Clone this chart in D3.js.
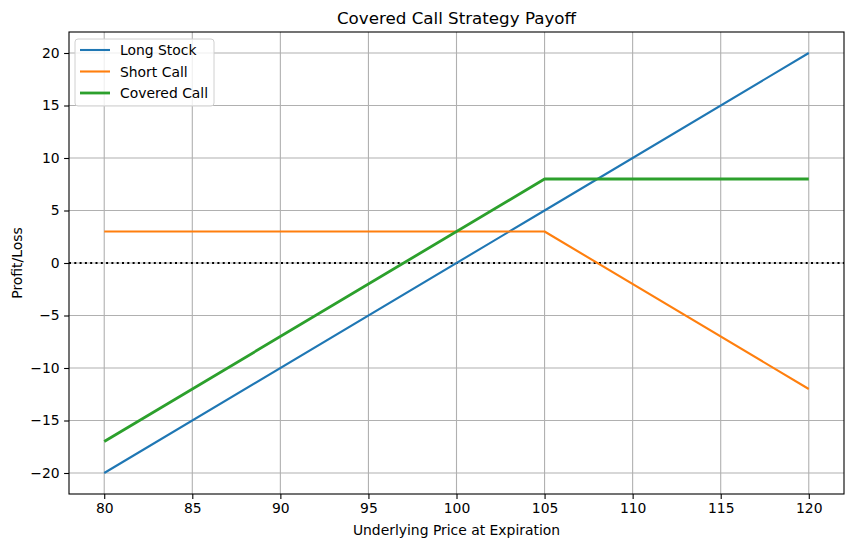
<!DOCTYPE html>
<html>
<head>
<meta charset="utf-8">
<title>Covered Call Strategy Payoff</title>
<script src="https://cdn.jsdelivr.net/npm/d3@7"></script>
<style>
    body { margin: 0; background: #fff; }
    text { font-family: "DejaVu Sans", sans-serif; fill: #000; }
</style>
</head>
<body>
<script>
    // data
    var prices = [80, 105, 120];
    var longStock = [-20, 5, 20];
    var shortCall = [3, 3, -12];
    var coveredCall = [-17, 8, 8];
    var xTicks = [80, 85, 90, 95, 100, 105, 110, 115, 120];
    var yTicks = [-20, -15, -10, -5, 0, 5, 10, 15, 20];

    var series = [
        {name: 'Long Stock', values: longStock, color: '#1f77b4', width: 2.1},
        {name: 'Short Call', values: shortCall, color: '#ff7f0e', width: 2.1},
        {name: 'Covered Call', values: coveredCall, color: '#2ca02c', width: 2.8}
    ];

    var W = 853, H = 547;
    var plot = {left: 69, right: 844, top: 32, bottom: 494};

    var x = d3.scaleLinear().domain([78, 122]).range([plot.left, plot.right]);
    var y = d3.scaleLinear().domain([-22, 22]).range([plot.bottom, plot.top]);

    var svg = d3.select('body').append('svg')
        .attr('width', W)
        .attr('height', H);

    // grid
    svg.append('g').selectAll('line').data(xTicks).enter().append('line')
        .attr('x1', function(d) { return x(d); })
        .attr('x2', function(d) { return x(d); })
        .attr('y1', plot.top).attr('y2', plot.bottom)
        .attr('stroke', '#b0b0b0').attr('stroke-width', 1.1);
    svg.append('g').selectAll('line').data(yTicks).enter().append('line')
        .attr('y1', function(d) { return y(d); })
        .attr('y2', function(d) { return y(d); })
        .attr('x1', plot.left).attr('x2', plot.right)
        .attr('stroke', '#b0b0b0').attr('stroke-width', 1.1);

    // axes
    var xAxis = svg.append('g')
        .attr('transform', 'translate(0,' + plot.bottom + ')')
        .call(d3.axisBottom(x).tickValues(xTicks).tickSize(4.9).tickPadding(4.5));
    var yAxis = svg.append('g')
        .attr('transform', 'translate(' + plot.left + ',0)')
        .call(d3.axisLeft(y).tickValues(yTicks).tickSize(4.9).tickPadding(4.5)
            .tickFormat(function(d) { return d < 0 ? '\u2212' + Math.abs(d) : d; }));
    [xAxis, yAxis].forEach(function(a) {
        a.select('.domain').remove();
        a.selectAll('line').attr('stroke', '#000').attr('stroke-width', 1.1);
        a.selectAll('text').style('font-size', '13.9px').attr('fill', '#000');
    });

    // zero line
    svg.append('line')
        .attr('x1', plot.left).attr('x2', plot.right)
        .attr('y1', y(0)).attr('y2', y(0))
        .attr('stroke', '#000').attr('stroke-width', 2)
        .attr('stroke-dasharray', '2,3.3');

    var line = d3.line()
        .x(function(d, i) { return x(prices[i]); })
        .y(function(d) { return y(d); });

    svg.append('g').selectAll('path').data(series).enter().append('path')
        .attr('d', function(s) { return line(s.values); })
        .attr('fill', 'none')
        .attr('stroke', function(s) { return s.color; })
        .attr('stroke-width', function(s) { return s.width; })
        .attr('stroke-linejoin', 'round');

    // frame
    svg.append('rect')
        .attr('x', plot.left).attr('y', plot.top)
        .attr('width', plot.right - plot.left).attr('height', plot.bottom - plot.top)
        .attr('fill', 'none').attr('stroke', '#000').attr('stroke-width', 1.1);

    // legend
    var lg = svg.append('g').attr('transform', 'translate(75,39)');
    lg.append('rect')
        .attr('width', 139).attr('height', 67).attr('rx', 3)
        .attr('fill', '#fff').attr('fill-opacity', 0.8)
        .attr('stroke', '#d0d0d0').attr('stroke-width', 1);
    var item = lg.selectAll('g.item').data(series).enter().append('g')
        .attr('class', 'item')
        .attr('transform', function(d, i) { return 'translate(0,' + (11 + i * 21.5) + ')'; });
    item.append('line')
        .attr('x1', 5).attr('x2', 35)
        .attr('stroke', function(d) { return d.color; })
        .attr('stroke-width', function(d) { return d.width; });
    item.append('text')
        .attr('x', 45).attr('dy', '0.36em')
        .style('font-size', '13.9px')
        .text(function(d) { return d.name; });

    // titles
    svg.append('text')
        .attr('x', (plot.left + plot.right) / 2).attr('y', 24)
        .attr('text-anchor', 'middle')
        .style('font-size', '16.7px')
        .text('Covered Call Strategy Payoff');
    svg.append('text')
        .attr('x', (plot.left + plot.right) / 2).attr('y', 535)
        .attr('text-anchor', 'middle')
        .style('font-size', '13.9px')
        .text('Underlying Price at Expiration');
    svg.append('text')
        .attr('transform', 'translate(22,' + ((plot.top + plot.bottom) / 2) + ') rotate(-90)')
        .attr('text-anchor', 'middle')
        .style('font-size', '13.9px')
        .text('Profit/Loss');
</script>
</body>
</html>
